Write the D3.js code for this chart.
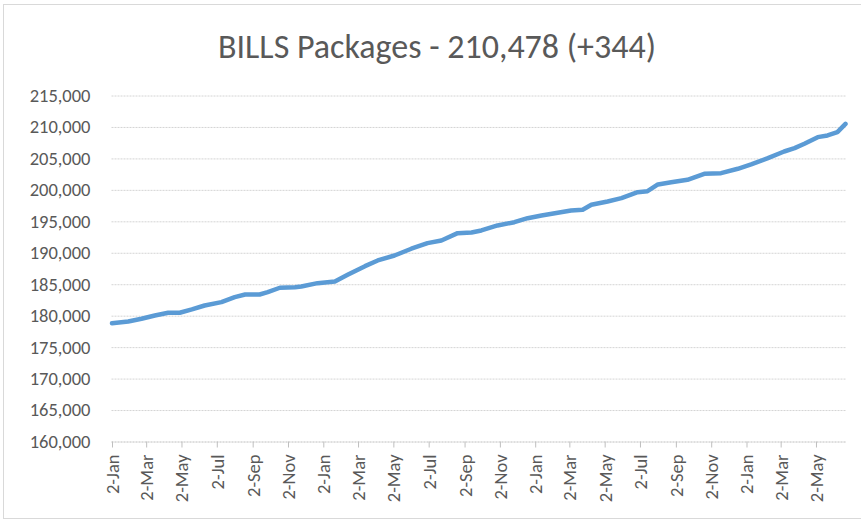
<!DOCTYPE html>
<html>
<head>
<meta charset="utf-8">
<script src="https://cdn.jsdelivr.net/npm/d3@7"></script>
<style>
  html, body { margin: 0; padding: 0; background: #ffffff; }
  svg { display: block; }
  text { font-family: Carlito, Calibri, Lato, "Open Sans", sans-serif; fill: #595959; }
</style>
</head>
<body>
<svg id="chart" width="861" height="524"></svg>
<script>
// ---- data ----
const titleText = "BILLS Packages - 210,478 (+344)";
const dates = [
  "2015-01-02","2015-01-30","2015-02-22","2015-03-17","2015-04-09","2015-04-29",
  "2015-05-20","2015-06-11","2015-07-10","2015-08-02","2015-08-20","2015-09-14",
  "2015-09-28","2015-10-19","2015-11-14","2015-11-25","2015-12-23","2016-01-22",
  "2016-02-13","2016-03-14","2016-04-05","2016-05-04","2016-06-02","2016-06-30",
  "2016-07-24","2016-08-21","2016-09-14","2016-10-01","2016-10-29","2016-11-27",
  "2016-12-20","2017-01-13","2017-02-10","2017-03-05","2017-03-25","2017-04-09",
  "2017-05-07","2017-05-31","2017-06-28","2017-07-15","2017-08-02","2017-08-25",
  "2017-09-22","2017-10-21","2017-11-19","2017-12-18","2018-01-10","2018-02-08",
  "2018-03-08","2018-03-26","2018-04-12","2018-05-05","2018-05-22","2018-06-08",
  "2018-06-22"
];
const packages = [
  178800,179080,179510,180030,180460,180460,
  180990,181620,182150,182940,183370,183370,
  183740,184440,184530,184640,185170,185440,
  186500,187870,188780,189570,190640,191530,
  191960,193120,193230,193550,194340,194860,
  195500,195930,196360,196720,196840,197630,
  198160,198680,199630,199790,200860,201220,
  201600,202560,202660,203350,204040,205040,
  206100,206630,207330,208380,208650,209170,
  210478
];
const yTicks = [160000,165000,170000,175000,180000,185000,190000,195000,200000,205000,210000,215000];
const xTickMonthsStep = 2; // labels every two months, on the 2nd

// ---- layout ----
const svg = d3.select("#chart");
const parse = d3.utcParse("%Y-%m-%d");
const data = dates.map((d, i) => ({ date: parse(d), value: packages[i] }));

const plotL = 111.5, plotR = 845.5, plotT = 95.5, plotB = 441.5;

const x = d3.scaleUtc()
  .domain(d3.extent(data, d => d.date))
  .range([plotL + 0.5, plotR]);
const y = d3.scaleLinear()
  .domain([160000, 215000])
  .range([plotB, plotT]);

// chart border
svg.append("rect")
  .attr("x", 3.5).attr("y", 4.5)
  .attr("width", 900).attr("height", 514)
  .attr("fill", "none").attr("stroke", "#d9d9d9").attr("stroke-width", 1);

// title
const title = svg.append("text")
  .attr("x", 437).attr("y", 58)
  .attr("text-anchor", "middle")
  .style("font-size", "24px")
  .text(titleText);
const tw = title.node().getComputedTextLength();
title.style("font-size", (24 * 438 / tw).toFixed(2) + "px");

// gridlines + y labels
const yAxis = d3.axisLeft(y)
  .tickValues(yTicks)
  .tickSize(-(plotR - plotL))
  .tickPadding(21)
  .tickFormat(d3.format(","));
const gy = svg.append("g")
  .attr("transform", `translate(${plotL},0)`)
  .call(yAxis);
gy.select(".domain").remove();
gy.selectAll(".tick line")
  .attr("stroke", "#d4d4d4")
  .attr("stroke-dasharray", "2,1");
gy.selectAll(".tick text")
  .style("font-size", "18.5px")
  .attr("fill", "#595959");

// x axis (ticks every two months on the 2nd)
const tickDates = d3.utcMonth.every(xTickMonthsStep)
  .range(d3.utcMonth.floor(x.domain()[0]), x.domain()[1])
  .map(d => d3.utcDay.offset(d, 1));
const xAxis = d3.axisBottom(x)
  .tickValues(tickDates)
  .tickSize(6)
  .tickFormat(d3.utcFormat("%-d-%b"));
const gx = svg.append("g")
  .attr("transform", `translate(0,${plotB})`)
  .call(xAxis);
gx.select(".domain")
  .attr("stroke", "#d4d4d4")
  .attr("stroke-dasharray", "2,1")
  .attr("d", `M${plotL},0.5H${plotR}`);
gx.selectAll(".tick line").attr("stroke", "#bfbfbf");
gx.selectAll(".tick text")
  .style("font-size", "18.5px")
  .attr("fill", "#595959")
  .attr("text-anchor", "end")
  .attr("transform", "rotate(-90)")
  .attr("x", -13)
  .attr("y", 0)
  .attr("dy", "0.35em");

// line
const line = d3.line()
  .x(d => x(d.date))
  .y(d => y(d.value));
svg.append("path")
  .datum(data)
  .attr("fill", "none")
  .attr("stroke", "#5b9bd5")
  .attr("stroke-width", 4.5)
  .attr("stroke-linejoin", "round")
  .attr("stroke-linecap", "round")
  .attr("d", line);
</script>
</body>
</html>
